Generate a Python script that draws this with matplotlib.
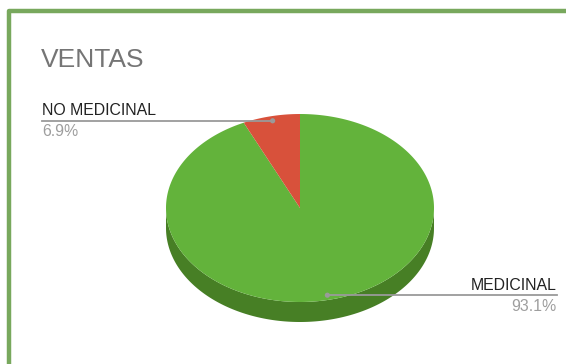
import numpy as np
import matplotlib.pyplot as plt
from matplotlib.patches import Polygon, Circle

plt.rcParams['font.family'] = ['Liberation Sans', 'DejaVu Sans']

# sales share by category
categories = ['MEDICINAL', 'NO MEDICINAL']
shares = [93.1, 6.9]
top_colors = ['#63b33b', '#d8513b']
side_colors = ['#477f25', '#9a3626']

W, H = 566, 364
fig = plt.figure(figsize=(W / 100, H / 100), dpi=100)
ax = fig.add_axes([0, 0, 1, 1])
ax.set_xlim(0, W)
ax.set_ylim(H, 0)
ax.axis('off')

# card frame (left + top edges)
ax.plot([9, 9, W], [H, 11, 11], color='#78a85d', lw=3.2, solid_capstyle='butt')

# pie geometry in pixel space
cx, cy = 300, 208
rx, ry = 134, 94
depth = 20


def ell(t, r=1.0, dz=0):
    return cx + r * rx * np.cos(t), cy - r * ry * np.sin(t) + dz


# slices run clockwise from 12 o'clock, so the small one sits on the left
fracs = np.array(shares) / sum(shares)
bounds = []
a = np.pi / 2
for f in fracs[::-1]:
    bounds.append((a, a + f * 2 * np.pi))
    a += f * 2 * np.pi
bounds = bounds[::-1]

# side wall, only the front half (pi..2pi, plus its 2pi-shifted copy) shows
for (a0, a1), col in zip(bounds, side_colors):
    for k in (0, 2 * np.pi):
        s0, s1 = max(a0, np.pi + k), min(a1, 2 * np.pi + k)
        if s1 <= s0:
            continue
        t = np.linspace(s0, s1, 200)
        x, y = ell(t)
        xb, yb = ell(t[::-1], dz=depth)
        ax.add_patch(Polygon(np.column_stack([np.r_[x, xb], np.r_[y, yb]]),
                             closed=True, fc=col, ec='none', zorder=2))

# top face
for (a0, a1), col in zip(bounds, top_colors):
    t = np.linspace(a0, a1, 400)
    x, y = ell(t)
    ax.add_patch(Polygon(np.column_stack([np.r_[cx, x], np.r_[cy, y]]),
                         closed=True, fc=col, ec='none', zorder=3))

ax.text(41, 67, 'VENTAS', fontsize=19, color='#757575', va='baseline', ha='left')

# leader lines and labels
line_col = '#9a9a9a'
for (a0, a1), name, pct in zip(bounds, categories, shares):
    mid = (a0 + a1) / 2
    px, py = ell(mid, r=0.95)
    if np.cos(mid) < 0:
        xe, ha = 42, 'left'
    else:
        xe, ha = 557, 'right'
    ax.plot([px, xe], [py, py], color=line_col, lw=1.3, zorder=4)
    ax.add_patch(Circle((px, py), 2.6, fc=line_col, ec='none', zorder=5))
    ax.text(xe, py - 5.5, name, fontsize=11.4, color='#222222', ha=ha, va='baseline')
    ax.text(xe, py + 15.5, f'{pct}%', fontsize=11.4, color='#9e9e9e', ha=ha, va='baseline')

fig.savefig('out.png', dpi=100, facecolor='white')
